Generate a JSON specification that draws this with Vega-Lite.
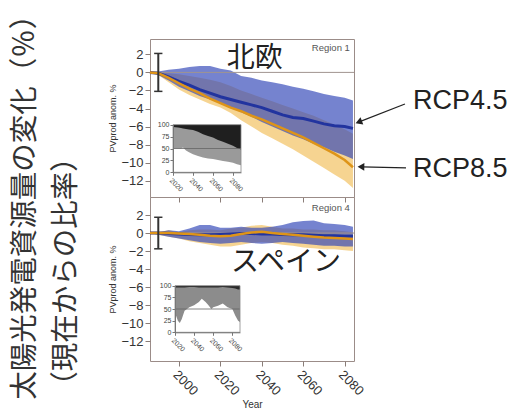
{
"$schema": "https://vega.github.io/schema/vega-lite/v6.json",
"padding": {"left": 10, "top": 0, "right": 6, "bottom": 4},
"background": "white",
"title": {"text": ["太陽光発電資源量の変化（％）", "（現在からの比率）"], "orient": "left", "anchor": "start", "font": "Noto Sans CJK JP", "fontSize": 28.5, "fontWeight": "normal", "color": "#333333", "lineHeight": 41, "offset": 28, "dx": 10.4},
"datasets": {
"north": [
{"year": 1986, "b_hi": 0.0, "b_lo": 0.0, "o_hi": 0.0, "o_lo": 0.0, "b_med": 0.0, "o_med": 0.0},
{"year": 1990, "b_hi": 0.1, "b_lo": -0.3, "o_hi": 0.0, "o_lo": -0.3, "b_med": -0.1, "o_med": -0.1},
{"year": 1995, "b_hi": 0.3, "b_lo": -0.9, "o_hi": -0.1, "o_lo": -1.1, "b_med": -0.5, "o_med": -0.6},
{"year": 2000, "b_hi": 0.4, "b_lo": -1.6, "o_hi": -0.2, "o_lo": -1.9, "b_med": -1.0, "o_med": -1.2},
{"year": 2005, "b_hi": 0.6, "b_lo": -2.1, "o_hi": -0.4, "o_lo": -2.5, "b_med": -1.4, "o_med": -1.8},
{"year": 2010, "b_hi": 0.7, "b_lo": -2.6, "o_hi": -0.6, "o_lo": -3.0, "b_med": -1.9, "o_med": -2.3},
{"year": 2015, "b_hi": 0.7, "b_lo": -3.0, "o_hi": -0.8, "o_lo": -3.5, "b_med": -2.3, "o_med": -2.9},
{"year": 2020, "b_hi": 0.4, "b_lo": -3.4, "o_hi": -1.1, "o_lo": -3.9, "b_med": -2.7, "o_med": -3.4},
{"year": 2025, "b_hi": 0.2, "b_lo": -3.9, "o_hi": -1.5, "o_lo": -4.5, "b_med": -3.0, "o_med": -3.9},
{"year": 2030, "b_hi": -0.4, "b_lo": -4.4, "o_hi": -2.0, "o_lo": -5.3, "b_med": -3.3, "o_med": -4.3},
{"year": 2035, "b_hi": -0.6, "b_lo": -4.9, "o_hi": -2.4, "o_lo": -6.0, "b_med": -3.6, "o_med": -4.8},
{"year": 2040, "b_hi": -0.9, "b_lo": -5.5, "o_hi": -2.8, "o_lo": -6.7, "b_med": -3.9, "o_med": -5.2},
{"year": 2045, "b_hi": -1.1, "b_lo": -6.0, "o_hi": -3.2, "o_lo": -7.3, "b_med": -4.3, "o_med": -5.7},
{"year": 2050, "b_hi": -1.3, "b_lo": -6.5, "o_hi": -3.6, "o_lo": -7.9, "b_med": -4.7, "o_med": -6.2},
{"year": 2055, "b_hi": -1.6, "b_lo": -7.0, "o_hi": -4.0, "o_lo": -8.5, "b_med": -5.0, "o_med": -6.7},
{"year": 2060, "b_hi": -1.8, "b_lo": -7.4, "o_hi": -4.4, "o_lo": -9.2, "b_med": -5.1, "o_med": -7.2},
{"year": 2065, "b_hi": -2.1, "b_lo": -7.9, "o_hi": -4.8, "o_lo": -9.9, "b_med": -5.4, "o_med": -7.8},
{"year": 2070, "b_hi": -2.4, "b_lo": -8.3, "o_hi": -5.3, "o_lo": -10.6, "b_med": -5.7, "o_med": -8.4},
{"year": 2075, "b_hi": -2.6, "b_lo": -8.8, "o_hi": -5.8, "o_lo": -11.3, "b_med": -5.9, "o_med": -9.0},
{"year": 2080, "b_hi": -2.8, "b_lo": -9.2, "o_hi": -6.3, "o_lo": -12.0, "b_med": -6.0, "o_med": -9.7},
{"year": 2084, "b_hi": -3.1, "b_lo": -9.6, "o_hi": -6.8, "o_lo": -12.8, "b_med": -6.2, "o_med": -10.5}
],
"spain": [
{"year": 1986, "b_hi": 0.0, "b_lo": 0.0, "o_hi": 0.0, "o_lo": 0.0, "b_med": 0.0, "o_med": 0.0},
{"year": 1990, "b_hi": 0.1, "b_lo": -0.2, "o_hi": 0.1, "o_lo": -0.2, "b_med": 0.0, "o_med": 0.0},
{"year": 1995, "b_hi": 0.3, "b_lo": -0.4, "o_hi": 0.3, "o_lo": -0.4, "b_med": -0.05, "o_med": 0.0},
{"year": 2000, "b_hi": 0.2, "b_lo": -0.6, "o_hi": 0.1, "o_lo": -0.6, "b_med": -0.1, "o_med": -0.05},
{"year": 2005, "b_hi": 0.5, "b_lo": -0.8, "o_hi": 0.3, "o_lo": -0.9, "b_med": -0.15, "o_med": -0.1},
{"year": 2010, "b_hi": 0.9, "b_lo": -1.0, "o_hi": 0.4, "o_lo": -1.1, "b_med": -0.2, "o_med": -0.2},
{"year": 2015, "b_hi": 0.9, "b_lo": -1.1, "o_hi": 0.4, "o_lo": -1.3, "b_med": -0.2, "o_med": -0.3},
{"year": 2020, "b_hi": 0.6, "b_lo": -1.2, "o_hi": 0.3, "o_lo": -1.5, "b_med": -0.15, "o_med": -0.35},
{"year": 2025, "b_hi": 0.6, "b_lo": -1.1, "o_hi": 0.5, "o_lo": -1.5, "b_med": -0.1, "o_med": -0.3},
{"year": 2030, "b_hi": 0.7, "b_lo": -1.0, "o_hi": 0.6, "o_lo": -1.3, "b_med": -0.05, "o_med": -0.1},
{"year": 2035, "b_hi": 0.6, "b_lo": -1.1, "o_hi": 0.8, "o_lo": -1.1, "b_med": -0.05, "o_med": 0.05},
{"year": 2040, "b_hi": 0.6, "b_lo": -1.2, "o_hi": 0.9, "o_lo": -1.0, "b_med": -0.1, "o_med": 0.15},
{"year": 2045, "b_hi": 0.7, "b_lo": -1.1, "o_hi": 0.7, "o_lo": -1.1, "b_med": -0.1, "o_med": 0.0},
{"year": 2050, "b_hi": 0.9, "b_lo": -1.0, "o_hi": 0.5, "o_lo": -1.3, "b_med": -0.15, "o_med": -0.1},
{"year": 2055, "b_hi": 1.2, "b_lo": -1.1, "o_hi": 0.5, "o_lo": -1.4, "b_med": -0.2, "o_med": -0.2},
{"year": 2060, "b_hi": 1.35, "b_lo": -1.2, "o_hi": 0.4, "o_lo": -1.6, "b_med": -0.2, "o_med": -0.3},
{"year": 2065, "b_hi": 1.4, "b_lo": -1.3, "o_hi": 0.4, "o_lo": -1.7, "b_med": -0.25, "o_med": -0.4},
{"year": 2070, "b_hi": 1.1, "b_lo": -1.4, "o_hi": 0.3, "o_lo": -1.8, "b_med": -0.3, "o_med": -0.5},
{"year": 2075, "b_hi": 1.0, "b_lo": -1.4, "o_hi": 0.3, "o_lo": -1.8, "b_med": -0.3, "o_med": -0.55},
{"year": 2080, "b_hi": 0.9, "b_lo": -1.5, "o_hi": 0.2, "o_lo": -1.9, "b_med": -0.35, "o_med": -0.6},
{"year": 2084, "b_hi": 0.7, "b_lo": -1.5, "o_hi": 0.1, "o_lo": -2.0, "b_med": -0.35, "o_med": -0.65}
],
"north_inset": [
{"year": 2020, "black_lo": 95, "gray_lo": 50},
{"year": 2025, "black_lo": 94, "gray_lo": 50},
{"year": 2028, "black_lo": 93, "gray_lo": 50},
{"year": 2030, "black_lo": 92, "gray_lo": 52},
{"year": 2033, "black_lo": 91, "gray_lo": 46},
{"year": 2036, "black_lo": 90, "gray_lo": 42},
{"year": 2040, "black_lo": 89, "gray_lo": 38},
{"year": 2045, "black_lo": 85, "gray_lo": 34},
{"year": 2050, "black_lo": 80, "gray_lo": 31},
{"year": 2055, "black_lo": 76, "gray_lo": 29},
{"year": 2060, "black_lo": 73, "gray_lo": 28},
{"year": 2065, "black_lo": 68, "gray_lo": 26},
{"year": 2070, "black_lo": 64, "gray_lo": 24},
{"year": 2075, "black_lo": 60, "gray_lo": 22},
{"year": 2080, "black_lo": 56, "gray_lo": 20},
{"year": 2084, "black_lo": 51, "gray_lo": 17},
{"year": 2088, "black_lo": 48, "gray_lo": 15}
],
"spain_inset": [
{"year": 2020, "black_lo": 96, "gray_lo": 50},
{"year": 2021, "black_lo": 96, "gray_lo": 36},
{"year": 2023, "black_lo": 96, "gray_lo": 25},
{"year": 2025, "black_lo": 96, "gray_lo": 20},
{"year": 2027, "black_lo": 96, "gray_lo": 28},
{"year": 2030, "black_lo": 96, "gray_lo": 46},
{"year": 2035, "black_lo": 97, "gray_lo": 54},
{"year": 2040, "black_lo": 97, "gray_lo": 58},
{"year": 2045, "black_lo": 96, "gray_lo": 65},
{"year": 2048, "black_lo": 96, "gray_lo": 72},
{"year": 2052, "black_lo": 96, "gray_lo": 65},
{"year": 2055, "black_lo": 96, "gray_lo": 58},
{"year": 2058, "black_lo": 96, "gray_lo": 50},
{"year": 2060, "black_lo": 96, "gray_lo": 54},
{"year": 2065, "black_lo": 96, "gray_lo": 57},
{"year": 2070, "black_lo": 97, "gray_lo": 62},
{"year": 2075, "black_lo": 96, "gray_lo": 54},
{"year": 2080, "black_lo": 95, "gray_lo": 50},
{"year": 2083, "black_lo": 94, "gray_lo": 36},
{"year": 2086, "black_lo": 92, "gray_lo": 25},
{"year": 2088, "black_lo": 92, "gray_lo": 22}
]
},
"spacing": 0,
"bounds": "flush",
"vconcat": [
{
"width": 204, "height": 158,
"resolve": {"scale": {"x": "independent", "y": "independent"}, "axis": {"x": "independent", "y": "independent"}},
"layer": [
{
"data": {"name": "north"},
"layer": [
{"mark": {"type": "area", "color": "#f0b848", "opacity": 0.6}, "encoding": {"x": {"field": "year", "type": "quantitative", "scale": {"domain": [1986, 2084.5], "nice": false, "zero": false}, "axis": {"values": [2000, 2020, 2040, 2060, 2080], "tickCount": 20, "labels": false, "title": null, "tickSize": 5}}, "y": {"field": "o_hi", "type": "quantitative", "scale": {"domain": [-13.8, 3.7], "nice": false, "zero": false}, "axis": {"values": [2, 0, -2, -4, -6, -8, -10, -12], "tickCount": 20, "labelOverlap": false, "title": "PVprod anom. %", "titleFontSize": 9, "labelFontSize": 13, "tickSize": 5, "labelPadding": 2, "titlePadding": 3}}, "y2": {"field": "o_lo"}}},
{"mark": {"type": "area", "color": "#3448b8", "opacity": 0.68}, "encoding": {"x": {"field": "year", "type": "quantitative"}, "y": {"field": "b_hi", "type": "quantitative"}, "y2": {"field": "b_lo"}}},
{"data": {"values": [{}]}, "mark": {"type": "rule", "color": "#a09490", "strokeWidth": 1}, "encoding": {"x": {"datum": 1986, "type": "quantitative"}, "x2": {"datum": 2084.5}, "y": {"datum": 0, "type": "quantitative"}}},
{"mark": {"type": "line", "color": "#22349f", "strokeWidth": 3}, "encoding": {"x": {"field": "year", "type": "quantitative"}, "y": {"field": "b_med", "type": "quantitative"}}},
{"mark": {"type": "line", "color": "#de9418", "strokeWidth": 2.5}, "encoding": {"x": {"field": "year", "type": "quantitative"}, "y": {"field": "o_med", "type": "quantitative"}}},
{"data": {"values": [{}]}, "mark": {"type": "rule", "color": "#333333", "strokeWidth": 2}, "encoding": {"x": {"datum": 1990, "type": "quantitative"}, "y": {"datum": 2.1, "type": "quantitative"}, "y2": {"datum": -2.1}}},
{"data": {"values": [{}]}, "mark": {"type": "rule", "color": "#333333", "strokeWidth": 1.5}, "encoding": {"x": {"datum": 1988, "type": "quantitative"}, "x2": {"datum": 1992}, "y": {"datum": 2.1, "type": "quantitative"}}},
{"data": {"values": [{}]}, "mark": {"type": "rule", "color": "#333333", "strokeWidth": 1.5}, "encoding": {"x": {"datum": 1988, "type": "quantitative"}, "x2": {"datum": 1992}, "y": {"datum": -2.1, "type": "quantitative"}}},
{"data": {"values": [{}]}, "mark": {"type": "text", "align": "right", "baseline": "middle", "fontSize": 9.5, "color": "#555555", "font": "Liberation Sans"}, "encoding": {"x": {"datum": 2082.5, "type": "quantitative"}, "y": {"datum": 2.7, "type": "quantitative"}, "text": {"value": "Region 1"}}},
{"data": {"values": [{}]}, "mark": {"type": "text", "align": "center", "baseline": "middle", "fontSize": 28, "color": "#222222", "font": "Noto Sans CJK JP"}, "encoding": {"x": {"datum": 2036.6, "type": "quantitative"}, "y": {"datum": 1.5, "type": "quantitative"}, "text": {"value": "北欧"}}},
{"data": {"values": [{}]}, "mark": {"type": "text", "align": "left", "baseline": "middle", "fontSize": 27, "color": "#222222", "font": "Liberation Sans"}, "encoding": {"x": {"datum": 2113, "type": "quantitative"}, "y": {"datum": -3.17, "type": "quantitative"}, "text": {"value": "RCP4.5"}}},
{"data": {"values": [{}]}, "mark": {"type": "text", "align": "left", "baseline": "middle", "fontSize": 27, "color": "#222222", "font": "Liberation Sans"}, "encoding": {"x": {"datum": 2113, "type": "quantitative"}, "y": {"datum": -10.7, "type": "quantitative"}, "text": {"value": "RCP8.5"}}},
{"data": {"values": [{}]}, "mark": {"type": "rule", "color": "#222222", "strokeWidth": 1.2}, "encoding": {"x": {"datum": 2109.1, "type": "quantitative"}, "x2": {"datum": 2087.3}, "y": {"datum": -3.5, "type": "quantitative"}, "y2": {"datum": -5.45}}},
{"data": {"values": [{}]}, "mark": {"type": "rule", "color": "#222222", "strokeWidth": 1.2}, "encoding": {"x": {"datum": 2109.6, "type": "quantitative"}, "x2": {"datum": 2088.4}, "y": {"datum": -10.58, "type": "quantitative"}, "y2": {"datum": -10.47}}},
{"data": {"values": [{}]}, "mark": {"type": "point", "shape": "triangle", "filled": true, "color": "#222222", "opacity": 1, "size": 60, "angle": 249}, "encoding": {"x": {"datum": 2087.3, "type": "quantitative"}, "y": {"datum": -5.45, "type": "quantitative"}}},
{"data": {"values": [{}]}, "mark": {"type": "point", "shape": "triangle", "filled": true, "color": "#222222", "opacity": 1, "size": 60, "angle": 271}, "encoding": {"x": {"datum": 2088.4, "type": "quantitative"}, "y": {"datum": -10.47, "type": "quantitative"}}}
]
},
{
"data": {"name": "north_inset"},
"layer": [
{"data": {"values": [{}]}, "mark": {"type": "rect", "color": "#1f1f1f"}, "encoding": {"x": {"datum": 2020, "type": "quantitative"}, "x2": {"datum": 2088}, "y": {"datum": 0, "type": "quantitative"}, "y2": {"datum": 100}}},
{"mark": {"type": "area", "color": "#9a9a9a"}, "encoding": {"x": {"field": "year", "type": "quantitative", "scale": {"domain": [2020, 2088], "range": [23, 91], "nice": false, "zero": false}, "axis": {"orient": "bottom", "offset": -24.7, "values": [2020, 2040, 2060, 2080], "tickCount": 20, "format": "d", "labelAngle": 45, "labelFontSize": 7, "tickSize": 3, "domain": true, "domainColor": "#777777", "tickColor": "#777777", "labelColor": "#444444", "title": null, "labelPadding": 1, "labelFlush": false, "labelOverlap": false, "zindex": 1}}, "y": {"field": "black_lo", "type": "quantitative", "stack": null, "scale": {"domain": [0, 100], "range": [133.3, 85.7], "nice": false, "zero": false}, "axis": {"orient": "left", "offset": -23, "values": [0, 25, 50, 75, 100], "tickCount": 20, "labelFontSize": 7, "tickSize": 3, "domain": true, "domainColor": "#777777", "tickColor": "#777777", "labelColor": "#444444", "title": null, "labelPadding": 1, "labelFlush": false, "labelOverlap": false, "zindex": 1}}}},
{"mark": {"type": "area", "color": "#ffffff"}, "encoding": {"x": {"field": "year", "type": "quantitative"}, "y": {"field": "gray_lo", "type": "quantitative", "stack": null}}},
{"data": {"values": [{}]}, "mark": {"type": "rule", "color": "#666666", "strokeWidth": 0.8}, "encoding": {"x": {"datum": 2020, "type": "quantitative"}, "x2": {"datum": 2088}, "y": {"datum": 50, "type": "quantitative"}}},
{"data": {"values": [{}]}, "mark": {"type": "rect", "filled": false, "stroke": "#888888", "strokeWidth": 0.8}, "encoding": {"x": {"datum": 2020, "type": "quantitative"}, "x2": {"datum": 2088}, "y": {"datum": 0, "type": "quantitative"}, "y2": {"datum": 100}}}
]
}
]
},
{
"width": 204, "height": 164,
"resolve": {"scale": {"x": "independent", "y": "independent"}, "axis": {"x": "independent", "y": "independent"}},
"layer": [
{
"data": {"name": "spain"},
"layer": [
{"mark": {"type": "area", "color": "#f0b848", "opacity": 0.6}, "encoding": {"x": {"field": "year", "type": "quantitative", "scale": {"domain": [1986, 2084.5], "nice": false, "zero": false}, "axis": {"values": [2000, 2020, 2040, 2060, 2080], "tickCount": 20, "format": "d", "labelAngle": 45, "labelFontSize": 13, "title": "Year", "titleFontSize": 10, "tickSize": 5, "labelFlush": false, "labelOverlap": false, "labelPadding": 2, "titlePadding": 2}}, "y": {"field": "o_hi", "type": "quantitative", "scale": {"domain": [-14.2, 4.0], "nice": false, "zero": false}, "axis": {"values": [2, 0, -2, -4, -6, -8, -10, -12], "tickCount": 20, "labelOverlap": false, "title": "PVprod anom. %", "titleFontSize": 9, "labelFontSize": 13, "tickSize": 5, "labelPadding": 2, "titlePadding": 3}}, "y2": {"field": "o_lo"}}},
{"mark": {"type": "area", "color": "#3448b8", "opacity": 0.68}, "encoding": {"x": {"field": "year", "type": "quantitative"}, "y": {"field": "b_hi", "type": "quantitative"}, "y2": {"field": "b_lo"}}},
{"data": {"values": [{}]}, "mark": {"type": "rule", "color": "#a09490", "strokeWidth": 1}, "encoding": {"x": {"datum": 1986, "type": "quantitative"}, "x2": {"datum": 2084.5}, "y": {"datum": 0, "type": "quantitative"}}},
{"mark": {"type": "line", "color": "#22349f", "strokeWidth": 3}, "encoding": {"x": {"field": "year", "type": "quantitative"}, "y": {"field": "b_med", "type": "quantitative"}}},
{"mark": {"type": "line", "color": "#de9418", "strokeWidth": 2.5}, "encoding": {"x": {"field": "year", "type": "quantitative"}, "y": {"field": "o_med", "type": "quantitative"}}},
{"data": {"values": [{}]}, "mark": {"type": "rule", "color": "#333333", "strokeWidth": 2}, "encoding": {"x": {"datum": 1990, "type": "quantitative"}, "y": {"datum": 1.75, "type": "quantitative"}, "y2": {"datum": -1.75}}},
{"data": {"values": [{}]}, "mark": {"type": "rule", "color": "#333333", "strokeWidth": 1.5}, "encoding": {"x": {"datum": 1988, "type": "quantitative"}, "x2": {"datum": 1992}, "y": {"datum": 1.75, "type": "quantitative"}}},
{"data": {"values": [{}]}, "mark": {"type": "rule", "color": "#333333", "strokeWidth": 1.5}, "encoding": {"x": {"datum": 1988, "type": "quantitative"}, "x2": {"datum": 1992}, "y": {"datum": -1.75, "type": "quantitative"}}},
{"data": {"values": [{}]}, "mark": {"type": "text", "align": "right", "baseline": "middle", "fontSize": 9.5, "color": "#555555", "font": "Liberation Sans"}, "encoding": {"x": {"datum": 2082.5, "type": "quantitative"}, "y": {"datum": 2.77, "type": "quantitative"}, "text": {"value": "Region 4"}}},
{"data": {"values": [{}]}, "mark": {"type": "text", "align": "center", "baseline": "middle", "fontSize": 28, "color": "#222222", "font": "Noto Sans CJK JP"}, "encoding": {"x": {"datum": 2051.7, "type": "quantitative"}, "y": {"datum": -3.3, "type": "quantitative"}, "text": {"value": "スペイン"}}}
]
},
{
"data": {"name": "spain_inset"},
"layer": [
{"data": {"values": [{}]}, "mark": {"type": "rect", "color": "#2a2a2a"}, "encoding": {"x": {"datum": 2020, "type": "quantitative"}, "x2": {"datum": 2088}, "y": {"datum": 0, "type": "quantitative"}, "y2": {"datum": 100}}},
{"mark": {"type": "area", "color": "#8c8c8c"}, "encoding": {"x": {"field": "year", "type": "quantitative", "scale": {"domain": [2020, 2088], "range": [25, 90], "nice": false, "zero": false}, "axis": {"orient": "bottom", "offset": -28.7, "values": [2020, 2040, 2060, 2080], "tickCount": 20, "format": "d", "labelAngle": 45, "labelFontSize": 7, "tickSize": 3, "domain": true, "domainColor": "#777777", "tickColor": "#777777", "labelColor": "#444444", "title": null, "labelPadding": 1, "labelFlush": false, "labelOverlap": false, "zindex": 1}}, "y": {"field": "black_lo", "type": "quantitative", "stack": null, "scale": {"domain": [0, 100], "range": [135.3, 88.7], "nice": false, "zero": false}, "axis": {"orient": "left", "offset": -25, "values": [0, 25, 50, 75, 100], "tickCount": 20, "labelFontSize": 7, "tickSize": 3, "domain": true, "domainColor": "#777777", "tickColor": "#777777", "labelColor": "#444444", "title": null, "labelPadding": 1, "labelFlush": false, "labelOverlap": false, "zindex": 1}}}},
{"mark": {"type": "area", "color": "#ffffff"}, "encoding": {"x": {"field": "year", "type": "quantitative"}, "y": {"field": "gray_lo", "type": "quantitative", "stack": null}}},
{"data": {"values": [{}]}, "mark": {"type": "rule", "color": "#666666", "strokeWidth": 0.8}, "encoding": {"x": {"datum": 2020, "type": "quantitative"}, "x2": {"datum": 2088}, "y": {"datum": 50, "type": "quantitative"}}},
{"data": {"values": [{}]}, "mark": {"type": "rect", "filled": false, "stroke": "#888888", "strokeWidth": 0.8}, "encoding": {"x": {"datum": 2020, "type": "quantitative"}, "x2": {"datum": 2088}, "y": {"datum": 0, "type": "quantitative"}, "y2": {"datum": 100}}}
]
}
]
}
],
"config": {
"view": {"stroke": "#9b8c88", "strokeWidth": 1},
"font": "Liberation Sans",
"axis": {"domain": false, "grid": false, "labelFont": "Liberation Sans", "titleFont": "Liberation Sans", "labelColor": "#333333", "titleColor": "#333333", "tickColor": "#8a7d78", "titleFontWeight": "normal", "labelFlush": false, "labelOverlap": false, "labelBound": false}
}
}
